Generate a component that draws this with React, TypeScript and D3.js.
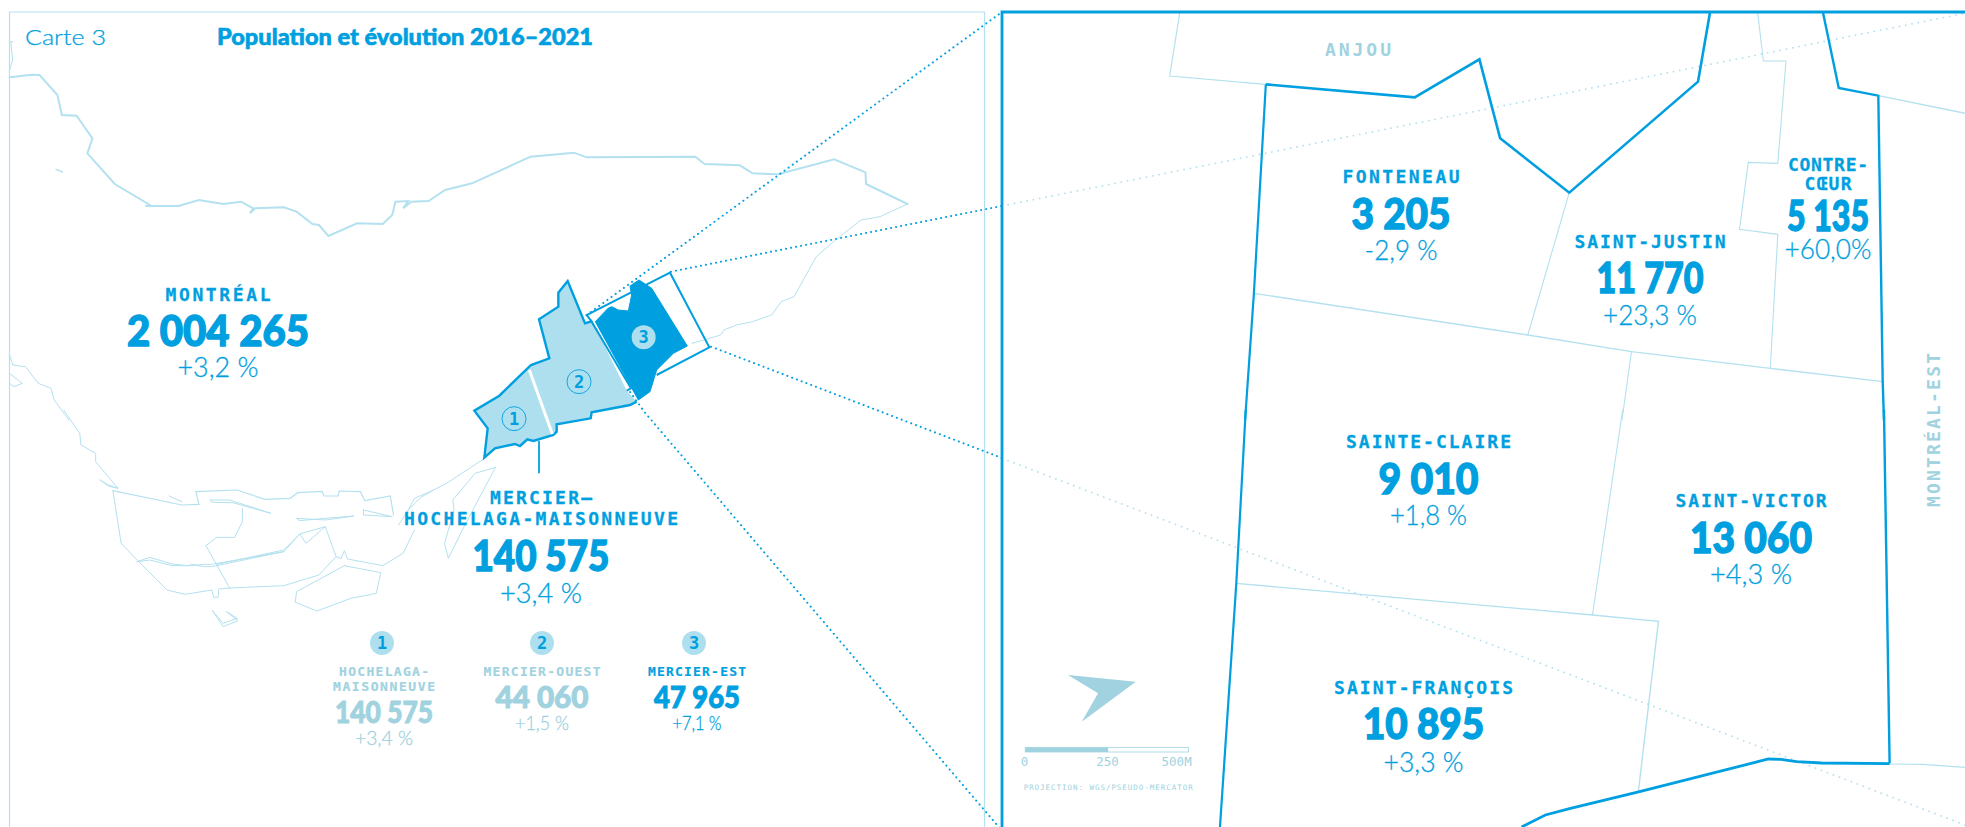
import React from "react";
import * as d3 from "d3";

type P = [number, number];

const DARK = "#009FE0";
const LIGHT = "#AEDFEE";
const LINE = "#B4E1EF";
const MUTED = "#A0D2E0";

// ---- values ----
const cityName = ["MONTRÉAL"];
const cityPop = ["2 004 265"];
const cityChange = ["+3,2 %"];
const boroughName = ["MERCIER–", "HOCHELAGA-MAISONNEUVE"];
const boroughPop = ["140 575"];
const boroughChange = ["+3,4 %"];
const sectorIds = ["1", "2", "3"];
const sectorNames = [["HOCHELAGA-", "MAISONNEUVE"], ["MERCIER-OUEST"], ["MERCIER-EST"]];
const sectorPops = ["140 575", "44 060", "47 965"];
const sectorChanges = ["+3,4 %", "+1,5 %", "+7,1 %"];
const hoodNames = [["FONTENEAU"], ["SAINT-JUSTIN"], ["CONTRE-", "CŒUR"], ["SAINTE-CLAIRE"], ["SAINT-VICTOR"], ["SAINT-FRANÇOIS"]];
const hoodPops = ["3 205", "11 770", "5 135", "9 010", "13 060", "10 895"];
const hoodChanges = ["-2,9 %", "+23,3 %", "+60,0%", "+1,8 %", "+4,3 %", "+3,3 %"];
const scaleLabels = ["0", "250", "500M"];

// ---- geometry, in four views of the source map ----
const northShore: P[] = [[15,232],[50,224],[62,225],[90,285],[97,345],[120,347],[145,415],[137,460],[180,552],[235,615],[228,618],[280,618],[312,600],[350,612],[378,605],[397,625],[392,640],[400,625],[445,622],[465,635],[490,672],[500,675],[515,708],[560,670],[600,672],[615,645],[620,605],[640,603],[632,625],[645,605],[672,603],[698,570],[740,550],[832,470],[900,458],[920,472],[1090,470],[1105,492],[1160,496],[1180,520],[1220,523],[1308,478],[1357,517],[1358,552],[1423,612]];
const eastShore: P[] = [[1423,612],[1380,650],[1350,660],[1310,720],[1280,770],[1245,890],[1225,905],[1210,945],[1180,965],[1155,975],[1135,990],[1130,1005],[1085,1030]];
const topStub: P[] = [[15,125],[20,125],[17,130],[20,180],[15,210]];
const westShoreA: P[] = [[15,1065],[20,1095],[40,1100],[60,1150],[80,1165],[85,1200],[108,1260]];
const westBox: P[] = [[15,1120],[35,1150],[22,1160],[15,1150]];
const fleck: P[] = [[88,508],[98,516]];

const westShoreB: P[] = [[100,0],[125,70],[127,105],[150,130],[150,155],[185,235]];
const westTail: P[] = [[157,210],[170,225],[185,235],[170,228],[157,210]];
const southWest: P[] = [[177,242],[285,285],[312,283],[307,245],[372,240],[415,268],[455,265],[467,248],[505,244],[508,258],[530,258],[532,243],[565,245],[572,272],[612,258],[617,315]];
const southLoop: P[] = [[177,242],[190,400],[215,450],[262,540],[290,553],[332,540],[335,562],[342,562],[343,537],[360,534],[445,527],[500,495],[527,440],[510,350],[480,400],[470,372],[445,420],[340,463]];
const innerLine: P[] = [[380,295],[380,335],[368,382],[340,382],[323,407],[360,534]];
const riverLine: P[] = [[650,360],[632,430],[600,467],[545,447],[540,422],[535,445],[527,440]];
const islandA: P[] = [[540,467],[597,488],[590,550],[550,565],[497,603],[463,577],[465,545],[540,467]];
const islandB: P[] = [[333,602],[350,650],[373,632],[355,605],[372,625],[350,640],[333,602]];
const shoreToBorough: P[] = [[760,145],[700,220],[680,240],[650,265],[640,300],[625,345]];
const islandC: P[] = [[777,172],[745,190],[710,270],[712,300],[697,400],[703,445],[725,360],[765,215],[777,172]];
const canalA: P[] = [[330,270],[360,270],[425,310],[365,278],[332,277],[330,270]];
const canalB: P[] = [[465,325],[510,330],[555,318],[510,325],[470,332],[465,325]];
const canalC: P[] = [[570,300],[615,320],[570,315],[570,300]];
const canalD: P[] = [[215,455],[235,442],[270,462],[295,467],[300,463],[320,470],[332,470],[445,425],[332,463],[320,463],[300,467],[270,467],[235,450],[215,455]];
const canalE: P[] = [[445,425],[470,372],[510,350]];
const canalF: P[] = [[265,258],[285,275]];
const canalG: P[] = [[640,300],[660,262],[680,240]];

const sectorsFill: P[] = [[457,183],[560,392],[590,425],[570,435],[455,457],[452,475],[350,493],[350,515],[340,525],[280,543],[262,538],[240,558],[225,552],[165,565],[133,593],[143,505],[103,452],[178,407],[273,315],[328,295],[297,178],[355,140],[355,98],[383,63],[435,190]];
const sectorsEdge: P[] = [[590,425],[570,435],[455,457],[452,475],[350,493],[350,515],[340,525],[280,543],[262,538],[240,558],[225,552],[165,565],[133,593],[143,505],[103,452],[178,407],[273,315],[328,295],[297,178],[355,140],[355,98],[383,63],[435,190],[457,183]];
const sectorThree: P[] = [[466,185],[504,145],[515,140],[535,150],[565,153],[575,105],[570,78],[597,60],[635,85],[742,258],[700,280],[650,330],[630,395],[595,420]];
const sectorDivider: P[] = [[268,330],[337,522]];
const inset: P[] = [[650,345],[808,262],[690,38],[440,165],[453,182],[573,385],[560,392]];
const leader: P[] = [[297,543],[297,640]];
const mapDots: P[] = [[222,476],[417,365],[611,232]];

const anjou: P[] = [[318,38],[302,228],[455,253]];
const hoodOutlineWest: P[] = [[455,253],[436,880],[422,1260]];
const hoodTop: P[] = [[455,253],[692,292],[795,178],[828,415],[938,578],[1143,245],[1162,38]];
const hoodEastTop: P[] = [[1342,38],[1367,264],[1430,287],[1437,1145],[1439,1260]];
const sjWest: P[] = [[938,578],[872,1005]];
const mainStreet: P[] = [[436,880],[872,1005],[1037,1055],[1258,1105],[1437,1145]];
const svWestTop: P[] = [[1037,1055],[1022,1260]];
const stepped: P[] = [[1238,38],[1247,183],[1283,183],[1270,490],[1223,487],[1209,688],[1270,703],[1258,1105]];
const eastRoad: P[] = [[1430,287],[1568,340]];

const hoodOutlineWest2: P[] = [[423,0],[408,520],[382,1251]];
const hoodEast2: P[] = [[1439,0],[1448,1060]];
const river2: P[] = [[1448,1061],[1340,1059],[1300,1055],[1275,1048],[1255,1047],[1050,1145],[940,1195],[900,1215],[862,1251]];
const cross2: P[] = [[408,520],[975,615],[1080,634],[1048,1145]];
const svWest2: P[] = [[1023,0],[975,615]];
const riverEast2: P[] = [[1448,1062],[1500,1063],[1568,1072]];
const northArrow: P[] = [[140,795],[248,815],[162,935],[188,850]];
const scaleBar: number[] = [72, 204, 332];
const scaleLabelAt: number[] = [71, 203, 313];

const dotA: P[] = [[920,945],[1571,36]];
const dotB: P[] = [[1052,815],[1571,618]];
const dotC: P[] = [[1115,1040],[1571,1374]];
const dotD: P[] = [[988,-54],[1010,5],[1571,1262]];
const fadeA: P[] = [[35,618],[1568,40]];
const fadeB: P[] = [[35,145],[1568,1245]];

// ---- the views: each is a pair of d3 scales onto the page ----
const view = (x0: number, y0: number, w: number, h: number, pw: number, ph: number) => {
  const sx = d3.scaleLinear([0, pw], [x0, x0 + w]);
  const sy = d3.scaleLinear([0, ph], [y0, y0 + h]);
  const line = d3.line<P>().x((d) => sx(d[0])).y((d) => sy(d[1])).curve(d3.curveLinear);
  return { sx, sy, line };
};
const vNW = view(0, 0, 1000, 420, 1568, 1260);
const vSW = view(0, 410, 1000, 417, 1568, 1251);
const vNE = view(980, 0, 985, 420, 1568, 1260);
const vSE = view(980, 410, 985, 417, 1568, 1251);
const vC = view(440, 260, 300, 220, 900, 660);

const NUM = "Lato, sans-serif";
const LBL = "'DejaVu Sans Mono', monospace";
const PCT = "Lato, sans-serif";

type Block = { cx: number; lines: number[]; pop: number; pct: number; lw: number[]; pw: number; cw: number; ls: number; ns: number; ps: number };
const cityLayout: Block = { cx: 218, lines: [301], pop: 346, pct: 377, lw: [105], pw: 182, cw: 81, ls: 18, ns: 42, ps: 28 };
const boroughLayout: Block = { cx: 541, lines: [504, 525], pop: 571, pct: 603, lw: [102, 274], pw: 137, cw: 82, ls: 18, ns: 42, ps: 28 };
const sectorLayout: Block[] = [
  { cx: 384, lines: [676, 691], pop: 723, pct: 745, lw: [90, 102], pw: 98, cw: 58, ls: 13, ns: 30, ps: 20 },
  { cx: 542, lines: [676], pop: 708, pct: 730, lw: [117], pw: 93, cw: 54, ls: 13, ns: 30, ps: 20 },
  { cx: 697, lines: [676], pop: 708, pct: 730, lw: [98], pw: 86, cw: 49, ls: 13, ns: 30, ps: 20 },
];
const hoodLayout: Block[] = [
  { cx: 1401, lines: [183], pop: 229, pct: 260, lw: [117], pw: 99, cw: 73, ls: 18, ns: 42, ps: 28 },
  { cx: 1650, lines: [248], pop: 293, pct: 325, lw: [151], pw: 107, cw: 94, ls: 18, ns: 42, ps: 28 },
  { cx: 1828, lines: [171, 190], pop: 231, pct: 259, lw: [80, 47], pw: 82, cw: 87, ls: 18, ns: 42, ps: 27 },
  { cx: 1428.5, lines: [448], pop: 494, pct: 525, lw: [165], pw: 100, cw: 77, ls: 18, ns: 42, ps: 28 },
  { cx: 1751, lines: [507], pop: 553, pct: 584, lw: [151], pw: 122, cw: 82, ls: 18, ns: 42, ps: 28 },
  { cx: 1423.5, lines: [694], pop: 739, pct: 772, lw: [179], pw: 121, cw: 80, ls: 18, ns: 42, ps: 28 },
];
const sectorBadgeX = [382, 542, 694];

const Fit = (p: any) => {
  const { w, spacing, ...rest } = p;
  return <text textAnchor="middle" textLength={w} lengthAdjust={spacing ? "spacing" : "spacingAndGlyphs"} {...rest} />;
};

const StatBlock = ({ names, pop, change, b, labelColor, numColor, pctColor }: any) => (
  <g>
    {names.map((n: string, i: number) => (
      <Fit key={n} x={b.cx} y={b.lines[i]} w={b.lw[i]} spacing fontFamily={LBL} fontWeight={700} fontSize={b.ls} fill={labelColor} stroke={labelColor} strokeWidth={b.ls * 0.014}>{n}</Fit>
    ))}
    <Fit x={b.cx} y={b.pop} w={b.pw} fontFamily={NUM} fontWeight={900} fontSize={b.ns} fill={numColor} stroke={numColor} strokeWidth={b.ns * 0.032}>{pop}</Fit>
    <Fit x={b.cx} y={b.pct} w={b.cw} fontFamily={PCT} fontWeight={300} fontSize={b.ps} fill={pctColor} stroke={pctColor} strokeWidth={0.3}>{change}</Fit>
  </g>
);

const Stroke = ({ d, c = LINE, w = 1, dash, fill = "none", cap = "round" }: any) => (
  <path d={d || ""} fill={fill} stroke={c} strokeWidth={w} strokeDasharray={dash} strokeLinejoin="miter" strokeLinecap={cap} />
);

export default function App() {
  const dots = "0.1 5";
  const sx = vSE.sx, sy = vSE.sy;
  return (
    <svg width={1965} height={827} viewBox="0 0 1965 827" style={{ position: "absolute", left: 0, top: 0, background: "#fff" }}>
      {/* left frame */}
      <path d="M9.5 827V12H984.5V827" fill="none" stroke={LINE} strokeWidth={1.2} />

      {/* context map */}
      <Stroke d={vNW.line(northShore)} w={2} />
      <Stroke d={vNW.line(eastShore)} w={1} />
      <Stroke d={vNW.line(topStub)} w={1} />
      <Stroke d={vNW.line(westShoreA)} w={1} />
      <Stroke d={vNW.line(westBox)} w={1} />
      <Stroke d={vNW.line(fleck)} w={1.5} />
      {[westShoreB, westTail, canalF].map((r, i) => <Stroke key={i} d={vSW.line(r)} w={1} />)}
      <Stroke d={vSW.line(southWest)} w={1.2} />
      {[southLoop, innerLine, riverLine, islandA, islandB, shoreToBorough, islandC, canalA, canalB, canalC, canalD, canalE, canalG].map((r, i) => (
        <Stroke key={i} d={vSW.line(r)} w={1} />
      ))}

      {/* sectors */}
      <path d={vC.line(sectorsFill)! + "Z"} fill={LIGHT} />
      <Stroke d={vC.line(sectorsEdge)} c={DARK} w={2.4} cap="butt" />
      <path d={vC.line(sectorThree)! + "Z"} fill={DARK} stroke={DARK} strokeWidth={1} />
      <Stroke d={vC.line(sectorDivider)} c="#fff" w={3} cap="butt" />
      <Stroke d={vC.line(inset)} c={DARK} w={2} cap="butt" />
      <Stroke d={vC.line(leader)} c={DARK} w={1.8} cap="butt" />
      {mapDots.map((d, i) => (
        <g key={i}>
          <circle cx={vC.sx(d[0])} cy={vC.sy(d[1])} r={12} fill={i === 2 ? LIGHT : "none"} stroke={i === 2 ? "none" : DARK} strokeWidth={0.9} />
          <text x={vC.sx(d[0])} y={vC.sy(d[1]) + 6} textAnchor="middle" fontFamily={LBL} fontWeight={700} fontSize={17} fill={DARK}>{sectorIds[i]}</text>
        </g>
      ))}

      {/* dotted call-outs */}
      <Stroke d={vNW.line(dotA)} c={DARK} w={2} dash={dots} />
      <Stroke d={vNW.line(dotB)} c={DARK} w={2} dash={dots} />
      <Stroke d={vNW.line(dotC)} c={DARK} w={2} dash={dots} />
      <Stroke d={vSW.line(dotD)} c={DARK} w={2} dash={dots} />

      {/* detail panel */}
      <Stroke d={vNE.line(fadeA)} c={LINE} w={1.8} dash="0.1 6.3" />
      <Stroke d={vSE.line(fadeB)} c={LINE} w={1.8} dash="0.1 6.3" />
      <Stroke d={vNE.line(anjou)} w={1.2} />
      {[sjWest, svWestTop, stepped].map((r, i) => <Stroke key={i} d={vNE.line(r)} w={1.1} />)}
      <Stroke d={vNE.line(mainStreet)} w={1.4} />
      <Stroke d={vNE.line(eastRoad)} w={1.4} />
      <Stroke d={vSE.line(cross2)} w={1.4} />
      <Stroke d={vSE.line(svWest2)} w={1.1} />
      <Stroke d={vSE.line(riverEast2)} w={1.2} />
      <Stroke d={vNE.line(hoodOutlineWest)} c={DARK} w={2.2} cap="butt" />
      <Stroke d={vSE.line(hoodOutlineWest2)} c={DARK} w={2.2} cap="butt" />
      <Stroke d={vNE.line(hoodTop)} c={DARK} w={2.6} cap="butt" />
      <Stroke d={vNE.line(hoodEastTop)} c={DARK} w={2.4} cap="butt" />
      <Stroke d={vSE.line(hoodEast2)} c={DARK} w={2.4} cap="butt" />
      <Stroke d={vSE.line(river2)} c={DARK} w={2.8} cap="butt" />
      <path d="M1002 827V12H1965" fill="none" stroke={DARK} strokeWidth={2.8} />

      {/* headings */}
      <text x={25} y={45} fontFamily={PCT} fontWeight={300} fontSize={22} fill={DARK} stroke={DARK} strokeWidth={0.25} textLength={81} lengthAdjust="spacingAndGlyphs">Carte 3</text>
      <text x={217} y={45} fontFamily={NUM} fontWeight={900} fontSize={23} fill={DARK} stroke={DARK} strokeWidth={0.6} textLength={376} lengthAdjust="spacingAndGlyphs">Population et évolution 2016–2021</text>

      <StatBlock names={cityName} pop={cityPop[0]} change={cityChange[0]} b={cityLayout} labelColor={DARK} numColor={DARK} pctColor={DARK} />
      <StatBlock names={boroughName} pop={boroughPop[0]} change={boroughChange[0]} b={boroughLayout} labelColor={DARK} numColor={DARK} pctColor={DARK} />

      {sectorIds.map((id, i) => (
        <g key={id}>
          <circle cx={sectorBadgeX[i]} cy={643} r={12} fill={LIGHT} />
          <text x={sectorBadgeX[i]} y={649} textAnchor="middle" fontFamily={LBL} fontWeight={700} fontSize={17} fill={DARK}>{id}</text>
          <StatBlock names={sectorNames[i]} pop={sectorPops[i]} change={sectorChanges[i]} b={sectorLayout[i]}
            labelColor={i === 2 ? DARK : MUTED} numColor={i === 2 ? DARK : MUTED} pctColor={i === 2 ? DARK : MUTED} />
        </g>
      ))}

      {hoodNames.map((n, i) => (
        <StatBlock key={i} names={n} pop={hoodPops[i]} change={hoodChanges[i]} b={hoodLayout[i]} labelColor={DARK} numColor={DARK} pctColor={DARK} />
      ))}

      <Fit x={1358} y={55.5} w={66} spacing fontFamily={LBL} fontWeight={700} fontSize={18} fill={MUTED}>ANJOU</Fit>
      <text transform="translate(1940,507) rotate(-90)" fontFamily={LBL} fontWeight={700} fontSize={18} fill={MUTED} textLength={154} lengthAdjust="spacing">MONTRÉAL-EST</text>

      {/* north arrow and scale */}
      <path d={vSE.line(northArrow)! + "Z"} fill={MUTED} />
      <rect x={sx(scaleBar[0])} y={sy(1012)} width={sx(scaleBar[2]) - sx(scaleBar[0])} height={sy(1026) - sy(1012)} fill="#fff" stroke={MUTED} strokeWidth={0.8} />
      <rect x={sx(scaleBar[0])} y={sy(1012)} width={sx(scaleBar[1]) - sx(scaleBar[0])} height={sy(1026) - sy(1012)} fill={MUTED} />
      {scaleLabels.map((t, i) => (
        <text key={t} x={sx(scaleLabelAt[i])} y={sy(1068)} textAnchor="middle" fontFamily={LBL} fontSize={12.5} fill={MUTED}>{t}</text>
      ))}
      <Fit x={sx(204)} y={sy(1140)} w={169} spacing fontFamily={LBL} fontSize={7.5} fill={MUTED}>PROJECTION: WGS/PSEUDO-MERCATOR</Fit>
    </svg>
  );
}
